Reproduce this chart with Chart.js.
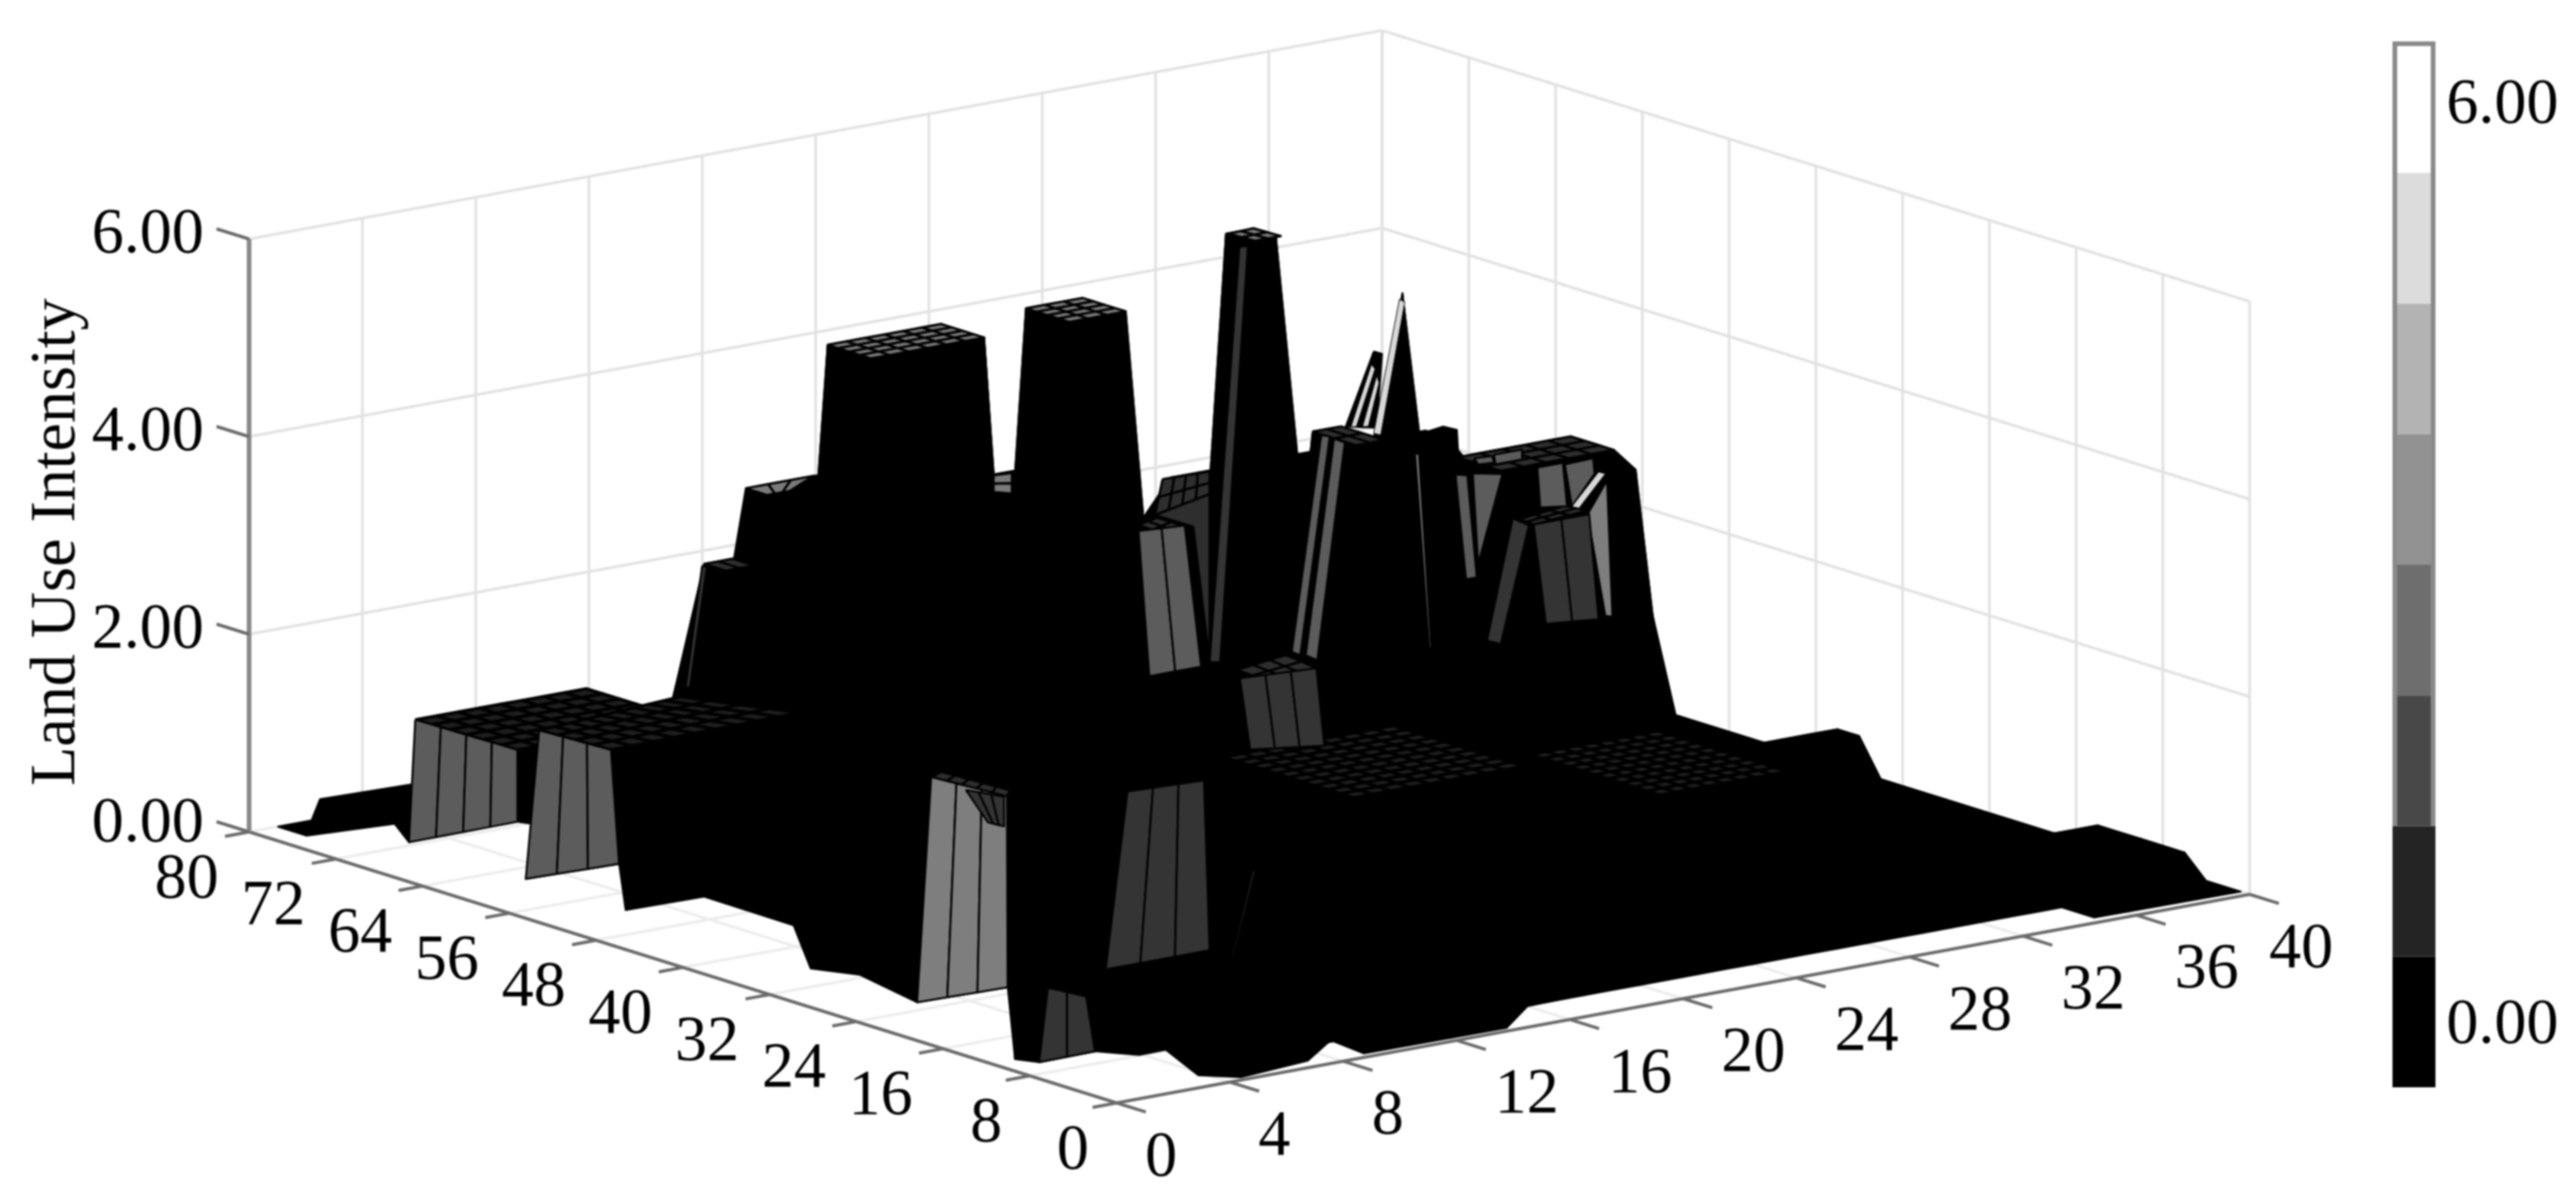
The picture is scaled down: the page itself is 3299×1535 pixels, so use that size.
<!DOCTYPE html>
<html><head><meta charset="utf-8">
<style>html,body{margin:0;padding:0;background:#fff}canvas{display:block;filter:blur(.9px)}</style>
<script src="https://cdn.jsdelivr.net/npm/chart.js@4/dist/chart.umd.js"></script></head>
<body><canvas id="c" width="3299" height="1535"></canvas>
<script>
// ---------- axis labels ----------
const xTicks=[0,4,8,12,16,20,24,28,32,36,40];
const yTicks=[0,8,16,24,32,40,48,56,64,72,80];
const zTicks=[0,2,4,6];
const zTitle="Land Use Intensity";
const colorBarLabels=["0.00","6.00"];
const colorBarShades=["#000000","#242424","#484848","#6e6e6e","#929292","#b3b3b3","#dcdcdc","#ffffff"];
// ---------- surface heights: [xFrom,xTo,yFrom,yTo,height], later rows override earlier ones ----------
const heightBlocks=[
[8,40,4,76,0],[8,22,6,52,2],[23,34,44,52,2.05],[35,35,44,52,1.6],[36,36,46,52,1.5],[36,36,44,44,.9],
[37,37,48,52,1.5],[37,37,46,46,.4],[38,38,50,52,1.3],[38,38,48,48,.25],
[23,30,24,42,1.2],[31,34,24,42,.6],[37,40,36,38,.37],[38,40,6,14,.22],
[8,11,54,68,1.1],[12,15,54,68,1.12],[12,12,70,72,1.12],[13,15,70,72,2.3],[15,15,74,76,1.12],[16,20,72,76,2.77],
[16,26,62,70,2],[21,26,72,76,2.45],[27,30,70,76,1.72],[27,30,54,68,1.7],[31,39,62,76,2.09],[40,40,74,76,2.09],[40,40,70,72,1.9],[40,40,56,68,1],
[31,34,54,60,2.05],[23,26,54,60,2.05],[35,37,52,54,1.8],[35,39,56,60,2.63],[38,39,54,54,2.5],
[17,18,54,58,.8],[22,22,54,58,1.65],[16,22,60,60,1],
[12,16,54,58,5.05],[19,21,54,58,5.05],
[22,22,48,50,1.54],[23,25,46,46,2.9],[25,25,48,50,2.9],[23,24,48,50,5.87],
[22,22,38,42,1.5],[23,24,38,42,4.14],
[30,30,50,50,3.08],[29,29,52,52,3.44],[31,31,52,52,1.1],[30,30,52,52,4.83]
];
// ---------- floor outline of the surface (x,y) ----------
const floorOutline=[[6.68,72.7],[6.9,71.7],[2.8,61.8],[5.94,61.4],[2.8,52.6],[5.5,52.4],[5.44,44],[2.75,35.4],[3.4,32.6],[2.72,25.5],[5.8,25.2],[.85,11.6],[1.17,10.2],[3.18,10.3],[3.9,8.1],[4.87,8.2],[3.77,2.3],[4.6,.5],[7.25,1.3],[9.2,4.3],[9,.7],[14,.6],[16,3.9],[23,4.7],[34.9,4.1],[34.9,1],[40,.8],[40,54],[12,74],[7,74]];
// ---------- facets: four corners x,y,z then cells along and across ----------
const blackFacets=[
[1,80,0, 2.2,80,0, 3.8,76.5,0, 1,77.3,0, 1,1],
[2.2,80,0, 2.5,80,.2, 5.7,80,.18, 3.8,76.5,0, 1,1],
[5.7,80,.18, 2.81,72.6,0, 2.81,72.6,0, 3.8,76.5,0, 1,1],
[6,62.3,1.12, 12.85,62.8,1.12, 12.85,62.8,0, 6,62.3,0, 1,1],
[3.92,65.5,1.12, 5.8,68.4,1.12, 6.9,71.7,0, 6.68,72.7,0, 1,1],
[8,52,2, 8,6,2, 8,6,0, 8,52,0, 1,1],
[3.9,20.3,2.2, 7,17.4,2.2, 3.18,10.3,0, .85,11.6,0, 1,1],
[25.92,44,4.73, 26.22,44,4.69, 26.03,44,3.95, 24.93,44,4.02, 1,1],
[35.23,64,2.72, 36.03,64,2.75, 36.52,64,2.69, 36.58,64,2.37, 1,1]
];
const lowDotFacets=[
[21,45,.85, 27,45,.85, 27,33,.85, 21,33,.85, 9,10],
[28,35,.85, 32.5,35,.85, 32.5,23,.85, 28,23,.85, 8,10],
[3.8,74.6,1.12, 9.8,74.5,1.12, 9.84,65.5,1.12, 3.92,65.5,1.12, 8,6],
[5.8,68.4,1.12, 11.3,69.8,1.12, 12.85,62.8,1.12, 6,62.3,1.12, 9,4]
];
const midDotFacets=[
[35,60,2.63, 39,60,2.63, 39,56,2.63, 35,56,2.63, 5,3],
[23,42,4.14, 24,42,4.14, 24,38,4.14, 23,38,4.14, 2,2],
[3.6,26.5,2.2, 4.19,27.1,2.2, 4.41,21.3,2.2, 3.9,20.3,2.2, 1,5],
[3.9,20.3,2.2, 4.41,21.3,2.2, 7.67,19,2.2, 7,17.4,2.2, 6,1],
[7,17.4,2.2, 7.67,19,2.2, 10.6,18.2,2.2, 9.4,16.5,2.2, 5,1],
[4.39,16,.39, 5.74,16,.52, 9.41,16,.44, 7.86,16,.32, 7,2],
[21.09,44,1.76, 22.83,44,1.82, 23.9,44,1.63, 22.2,44,1.59, 3,2],
[31.07,44,2.76, 32.67,44,2.81, 33.47,44,2.72, 31.57,44,2.68, 3,2],
[18.47,44,3.83, 20.13,44,3.82, 20.13,44,3.59, 18.2,44,3.48, 4,2],
[17.62,44,3.41, 18.28,44,3.45, 19.25,44,3.31, 18.59,44,3.26, 2,2],
[18.2,44,3.48, 20.13,44,3.59, 20.13,44,1.89, 19.55,44,3.29, 1,1],
[13,72,2.3, 14,72,2.3, 14,70,2.3, 13,70,2.3, 2,1]
];
const brightDotFacets=[
[12,58,5.05, 16,58,5.05, 16,54,5.05, 12,54,5.05, 6,4],
[19,58,5.05, 21,58,5.05, 21,54,5.05, 19,54,5.05, 3,4],
[20.8,44,6.19, 21.67,44,6.2, 22.64,44,6.07, 21.73,44,6.07, 2,2],
[16,76,2.77, 18.4,76,2.77, 16.8,74,2.77, 16,74,2.77, 3,1],
[24.75,76,2.44, 25.4,76,2.43, 25.4,76,2.22, 24.75,76,2.27, 1,2]
];
const midGrayFacets=[
[3.8,74.6,1.12, 3.92,65.5,1.12, 6.68,72.7,0, 2.81,72.6,0, 4,1],
[5.8,68.4,1.12, 6,62.3,1.12, 5.94,61.4,0, 2.8,61.8,0, 3,1],
[17.62,44,3.35, 19.25,44,3.32, 19.83,44,1.86, 18,44,1.86, 2,1],
[24.07,44,3.98, 24.37,44,3.95, 23.33,44,1.79, 23.03,44,1.84, 1,1],
[24.52,44,3.92, 24.9,44,3.86, 23.93,44,1.71, 23.52,44,1.78, 1,1],
[28.81,44,3.33, 29.23,44,3.3, 29.56,44,2.25, 29.18,44,2.25, 1,1],
[29.42,44,3.31, 30.47,44,3.25, 29.61,44,2.38, 29.61,44,2.38, 1,1],
[31.7,44,3.25, 32.6,44,3.25, 32.75,44,2.8, 31.8,44,2.84, 1,1],
[32.67,44,3.23, 33.67,44,3.24, 33.72,44,3.08, 32.92,44,2.79, 1,1],
[29.47,44,3.46, 30.11,44,3.45, 30.17,44,3.38, 29.61,44,3.39, 1,1],
[30.17,44,3.46, 31.16,44,3.46, 31.16,44,3.36, 30.22,44,3.36, 1,1]
];
const lightGrayFacets=[
[3.6,26.5,2.2, 3.9,20.3,2.2, 5.8,25.2,0, 2.72,25.5,0, 3,1],
[33.47,44,2.68, 34.16,44,2.99, 34.35,44,1.6, 34.1,44,1.62, 1,1],
[27.38,44,3.62, 27.52,44,3.61, 27.96,44,1.62, 27.88,44,1.62, 1,1]
];
const darkGrayFacets=[
[3.1,22,2.25, 4.45,22,2.11, 4.45,22,1.81, 3.88,22,1.88, 3,1],
[6.51,16,2.26, 9.21,16,2.23, 9.41,16,.5, 5.74,16,.5, 3,1],
[2.17,12,.64, 3.52,12,.48, 3.18,10.3,0, 1.17,10.2,0, 2,1],
[21.2,44,1.67, 23.9,44,1.63, 24.18,44,.83, 21.56,44,.93, 3,1],
[31.57,44,2.68, 33.53,44,2.68, 33.86,44,1.6, 32,44,1.65, 2,1],
[30.83,44,2.78, 31.4,44,2.68, 30.41,44,1.53, 29.92,44,1.59, 1,1],
[21.18,44,6.04, 21.48,44,6.03, 20.5,44,1.87, 20.13,44,1.89, 1,1],
[12.35,72,1.08, 12.5,72,1.08, 13.1,72,2.27, 12.93,72,2.28, 1,1],
[7.12,8,.83, 7.2,8,.83, 7.97,8,1.66, 7.86,8,1.66, 1,1]
];
const paleFacets=[
[26.83,44,5.21, 27.02,44,5.17, 26.17,44,3.87, 25.92,44,3.9, 1,1],
[25.84,44,4.6, 25.97,44,4.55, 25.31,44,4,25.12,44,4.01, 1,1],
[26.03,44,4.48, 26.11,44,4.4, 25.73,44,3.98, 25.53,44,3.99, 1,1],
[33.17,44,2.76, 34.1,44,3.06, 33.86,44,3.09, 32.92,44,2.79, 1,1]
];

// ---------- view of the 3D box on the flat scale ----------
const view={ox:1430,oy:1412,xx:36.275,xy:6.675,yx:13.8875,yy:4.3375,zy:126.5};
function project(x,y,z){return {x:view.ox+view.xx*x-view.yx*y,y:view.oy-view.xy*x-view.yy*y-view.zy*z};}
const datasets=[];
function line3(pts,color,width){datasets.push({data:pts.map(p=>project(p[0],p[1],p[2])),borderColor:color,borderWidth:width,fill:false,showLine:true,pointRadius:0,clip:false});}
function poly(points,fill,stroke,width){const d=points.concat([points[0]]);datasets.push({data:d,backgroundColor:fill,borderColor:stroke,borderWidth:width,fill:'shape',showLine:true,pointRadius:0,clip:false,borderJoinStyle:'round'});}

// walls and floor
const wallLine="#e2e2e2";
for(const x of xTicks) line3([[x,80,0],[x,80,6]],wallLine,3.5);
for(const y of yTicks) line3([[40,y,0],[40,y,6]],wallLine,3.5);
for(const z of zTicks.slice(1)) {line3([[0,80,z],[40,80,z]],wallLine,3.5);line3([[40,80,z],[40,0,z]],wallLine,3.5);}
for(const x of xTicks) line3([[x,0,0],[x,80,0]],"#ececec",3.5);
for(const y of yTicks) line3([[0,y,0],[40,y,0]],"#ececec",3.5);
// axes
const axisColor="#6a6a6a";
line3([[0,0,0],[0,80,0]],axisColor,4);line3([[0,0,0],[40,0,0]],axisColor,4);line3([[0,80,0],[0,80,6]],"#8a8a8a",6);
for(const y of yTicks) line3([[0,y,0],[-.85,y,0]],axisColor,4);
for(const x of xTicks) line3([[x,0,0],[x,-2.7,0]],axisColor,4);
for(const z of zTicks) line3([[0,80,z],[0,83,z]],axisColor,4);
// floor of the surface
poly(floorOutline.map(p=>project(p[0],p[1],0)),"#000","#000",2);
// height table built from the blocks, then one quad per grid cell, far to near
const gridX=[];for(let i=0;i<=40;i++)gridX.push(i);
const gridY=[];for(let j=0;j<=40;j++)gridY.push(j*2);
const heights=gridY.map(()=>gridX.map(()=>null));
for(const [a,b,c,d,z] of heightBlocks) for(const y of gridY) if(y>=c&&y<=d) for(const x of gridX) if(x>=a&&x<=b) heights[y/2][x]=z;
for(let j=gridY.length-2;j>=0;j--) for(let i=gridX.length-2;i>=0;i--){
  const h=[heights[j][i],heights[j][i+1],heights[j+1][i+1],heights[j+1][i]];
  if(h.some(v=>v===null))continue;
  poly([project(gridX[i],gridY[j],h[0]),project(gridX[i+1],gridY[j],h[1]),project(gridX[i+1],gridY[j+1],h[2]),project(gridX[i],gridY[j+1],h[3])],"#000","#000",2);
}
// facets
function facet(f,fill,w){
  const [nu,nv]=[f[12],f[13]];
  const at=(u,v)=>{const r=[0,1,2].map(k=>(f[k]*(1-u)+f[3+k]*u)*(1-v)+(f[9+k]*(1-u)+f[6+k]*u)*v);return project(r[0],r[1],r[2]);};
  for(let a=0;a<nu;a++)for(let b=0;b<nv;b++)
    poly([at(a/nu,b/nv),at((a+1)/nu,b/nv),at((a+1)/nu,(b+1)/nv),at(a/nu,(b+1)/nv)],fill,"#000",w);
}
blackFacets.forEach(f=>facet(f,"#000",2));
lowDotFacets.forEach(f=>facet(f,"#1e1e1e",4));
midDotFacets.forEach(f=>facet(f,"#2e2e2e",3));
brightDotFacets.forEach(f=>facet(f,"#7a7a7a",3));
midGrayFacets.forEach(f=>facet(f,"#5c5c5c",2.5));
lightGrayFacets.forEach(f=>facet(f,"#7e7e7e",2.5));
darkGrayFacets.forEach(f=>facet(f,"#343434",2.5));
paleFacets.forEach(f=>facet(f,"#d8d8d8",1));
// colour bar
const barTop=54,barBottom=1392,barL=3064,barR=3119,bandH=(barBottom-barTop)/colorBarShades.length;
colorBarShades.forEach((s,k)=>{const y1=barBottom-k*bandH,y0=y1-bandH;poly([{x:barL,y:y1},{x:barR,y:y1},{x:barR,y:y0},{x:barL,y:y0}],s,s,0);});
datasets.push({data:[{x:barL+3,y:barBottom-2*bandH},{x:barL+3,y:barTop+2},{x:barR-3,y:barTop+2},{x:barR-3,y:barBottom-2*bandH}],borderColor:"#8a8a8a",borderWidth:6,fill:false,showLine:true,pointRadius:0,clip:false});

const labels={id:'labels',afterDatasetsDraw(chart){
  const c=chart.ctx,sx=chart.scales.x,sy=chart.scales.y;
  const P=(x,y,z)=>{const p=project(x,y,z);return [sx.getPixelForValue(p.x),sy.getPixelForValue(p.y)];};
  c.save();c.fillStyle="#000";c.font='82px "Liberation Serif"';c.textBaseline="middle";
  c.textAlign="right";
  for(const z of zTicks){const [a,b]=P(0,80,z);c.fillText(z.toFixed(2),a-58,b-(z==0?10:5));}
  c.textAlign="center";
  for(const y of yTicks){const [a,b]=P(0,y,0);c.fillText(String(y),a+(y<10?-56:-80),b+62);}
  for(const x of xTicks){const [a,b]=P(x,0,0);c.fillText(String(x),a+(x<10?57:x==40?66:90),b+71);}
  c.textAlign="left";
  c.fillText(colorBarLabels[1],sx.getPixelForValue(3133),sy.getPixelForValue(135));
  c.fillText(colorBarLabels[0],sx.getPixelForValue(3133),sy.getPixelForValue(1313));
  c.save();c.translate(sx.getPixelForValue(73),sy.getPixelForValue(694));c.rotate(-Math.PI/2);c.textAlign="center";c.fillText(zTitle,0,0);c.restore();
  c.restore();
}};
new Chart(document.getElementById('c'),{type:'scatter',data:{datasets:datasets.reverse()},plugins:[labels],
 options:{responsive:false,animation:false,devicePixelRatio:1,layout:{padding:0},events:[],
  elements:{line:{tension:0},point:{radius:0}},
  plugins:{legend:{display:false},tooltip:{enabled:false}},
  scales:{x:{type:'linear',display:false,min:0,max:3299},y:{type:'linear',display:false,min:0,max:1535,reverse:true}}}});
</script></body></html>
